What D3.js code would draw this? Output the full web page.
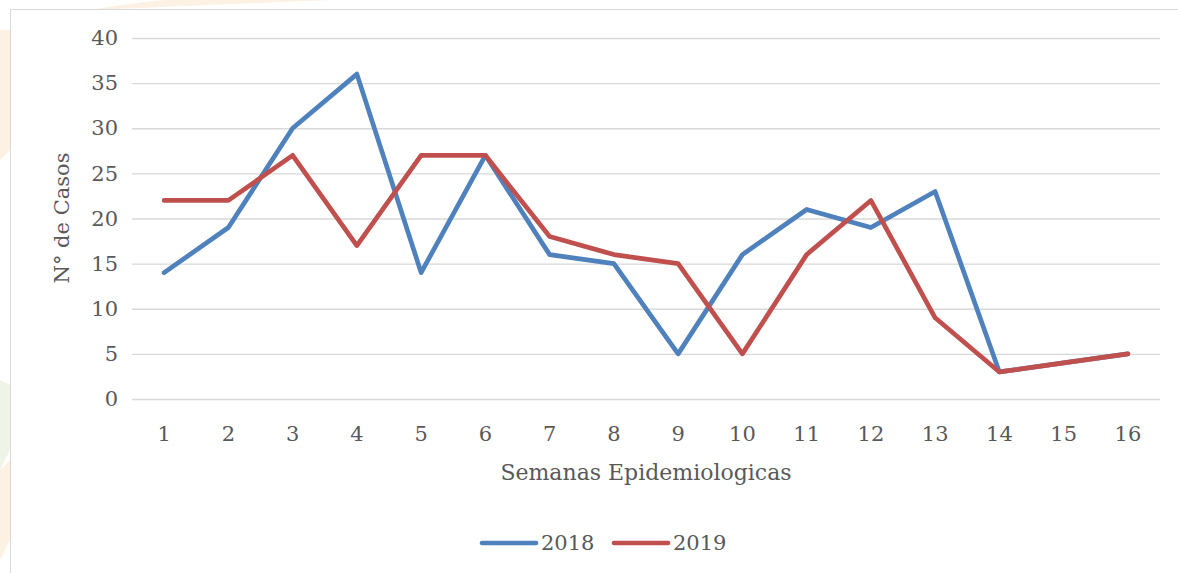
<!DOCTYPE html>
<html>
<head>
<meta charset="utf-8">
<script src="https://cdn.jsdelivr.net/npm/d3@7"></script>
<style>
  body { margin: 0; background: #fff; }
  svg text { font-family: "DejaVu Serif", "Liberation Serif", serif; fill: #595959; }
</style>
</head>
<body>
<svg id="chart"></svg>
<script>
const weeks = ["1","2","3","4","5","6","7","8","9","10","11","12","13","14","15","16"];
const cases2018 = [14, 19, 30, 36, 14, 27, 16, 15, 5, 16, 21, 19, 23, 3, 4, 5];
const cases2019 = [22, 22, 27, 17, 27, 27, 18, 16, 15, 5, 16, 22, 9, 3, 4, 5];
const yTicks = [0, 5, 10, 15, 20, 25, 30, 35, 40];
const seriesNames = ["2018", "2019"];
const colors = ["#4f81bd", "#c0504d"];

const W = 1178, H = 573;
const margin = {top: 38, right: 18, bottom: 174, left: 132},
    width = W - margin.left - margin.right,
    height = H - margin.top - margin.bottom;

const root = d3.select('#chart').attr('width', W).attr('height', H);

// faint watermark shapes behind the frame
root.append('path').attr('d', 'M90,10 Q200,-10 330,0 L90,10 Z').attr('fill', '#fdf1e4');
root.append('path').attr('d', 'M0,30 L10,30 L10,150 L0,160 Z').attr('fill', '#fdf1e4');
root.append('path').attr('d', 'M0,380 L10,385 L10,450 L0,470 Z').attr('fill', '#eef5e8');
root.append('path').attr('d', 'M0,470 L10,460 L10,540 L0,560 Z').attr('fill', '#fdf1e4');

// chart frame
root.append('rect').attr('x', 10.5).attr('y', 9.5).attr('width', W).attr('height', H)
    .attr('fill', '#fff').attr('stroke', '#d9d9d9').attr('stroke-width', 1);

const svg = root.append('g').attr('transform', `translate(${margin.left}, ${margin.top})`);

const xScale = d3.scaleBand().domain(weeks).range([0, width]);
const yScale = d3.scaleLinear().domain([0, 40]).range([height, 0]);

// grid + y labels
const yAxis = d3.axisLeft(yScale).tickValues(yTicks).tickSize(-width).tickPadding(14);
const yAxisContainer = svg.append('g').call(yAxis);
yAxisContainer.select('.domain').remove();
yAxisContainer.selectAll('.tick line').attr('stroke', '#d9d9d9').attr('stroke-width', 1.3);
yAxisContainer.selectAll('.tick text').attr('font-size', 21).style('font-family', null);

const xAxis = d3.axisBottom(xScale).tickSize(0).tickPadding(27);
const xAxisContainer = svg.append('g').attr('transform', `translate(0, ${height})`).call(xAxis);
xAxisContainer.select('.domain').remove();
xAxisContainer.selectAll('.tick text').attr('font-size', 21).style('font-family', null);

const line = d3.line()
    .x((d, i) => xScale(weeks[i]) + xScale.bandwidth() / 2)
    .y(d => yScale(d));

[cases2018, cases2019].forEach((vals, k) => {
    svg.append('path')
        .datum(vals)
        .attr('fill', 'none')
        .attr('stroke', colors[k])
        .attr('stroke-width', 4.7)
        .attr('stroke-linejoin', 'round')
        .attr('stroke-linecap', 'round')
        .attr('d', line);
});

// axis titles
svg.append('text')
    .attr('x', width / 2).attr('y', height + 81)
    .attr('text-anchor', 'middle').attr('font-size', 22)
    .text('Semanas Epidemiologicas');

svg.append('text')
    .attr('transform', `translate(${62 - margin.left}, ${218 - margin.top}) rotate(-90)`)
    .attr('text-anchor', 'middle').attr('dy', '0.35em').attr('font-size', 21)
    .text('N° de Casos');

// legend
const legend = root.append('g').attr('transform', 'translate(0, 543)');
const legendX = [482, 614];
seriesNames.forEach((name, k) => {
    legend.append('line')
        .attr('x1', legendX[k]).attr('x2', legendX[k] + 54)
        .attr('y1', 0).attr('y2', 0)
        .attr('stroke', colors[k]).attr('stroke-width', 4.7).attr('stroke-linecap', 'round');
    legend.append('text')
        .attr('x', legendX[k] + 59).attr('y', 0).attr('dy', '0.35em')
        .attr('font-size', 21)
        .text(name);
});
</script>
</body>
</html>
